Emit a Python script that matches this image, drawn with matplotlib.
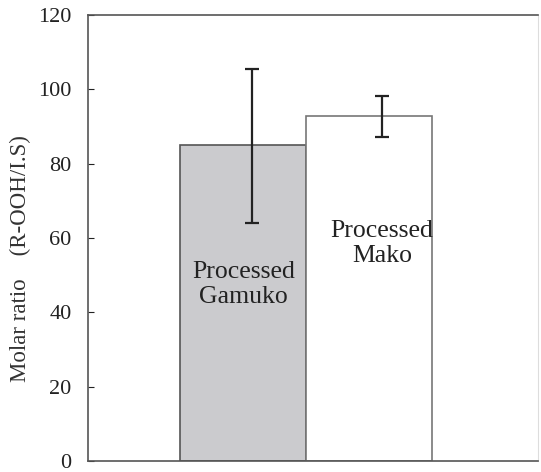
import matplotlib.pyplot as plt
import numpy as np

# bar data
samples = ['Processed\nGamuko', 'Processed\nMako']
ratio = [85.0, 92.8]
err_low = [64.1, 87.2]
err_high = [105.5, 98.3]
yticks = [0, 20, 40, 60, 80, 100, 120]

plt.rcParams['font.family'] = ['Liberation Serif', 'DejaVu Serif']

fig = plt.figure(figsize=(5.41, 4.72), dpi=100)
ax = fig.add_axes([0.163, 0.023, 0.832, 0.945])

x = np.arange(len(samples)) + 1.0
ratio = np.array(ratio)
lo = ratio - np.array(err_low)
hi = np.array(err_high) - ratio

ax.bar(x[0], ratio[0], width=1.0, color='#cbcbce', edgecolor='#555555', linewidth=1.2)
ax.bar(x[1], ratio[1], width=1.0, color='white', edgecolor='#777777', linewidth=1.2)

# error bars sit a bit right of centre
ex = x + np.array([0.07, 0.10])
ax.errorbar(ex, ratio, yerr=[lo, hi], fmt='none', ecolor='#222222',
            elinewidth=1.6, capsize=5, capthick=1.6)

ax.text(x[0], 47.5, samples[0], ha='center', va='center', fontsize=18.5,
        color='#222222', linespacing=1.15)
ax.text(x[1] + 0.1, 58.5, samples[1], ha='center', va='center', fontsize=18.5,
        color='#222222', linespacing=1.15)

ax.set_xlim(-0.23, 3.34)
ax.set_ylim(0, 120)
ax.set_yticks(yticks)
ax.set_xticks([])
ax.tick_params(axis='y', direction='in', length=4, labelsize=16, pad=12,
               colors='#222222')
ax.set_ylabel('Molar ratio    (R-OOH/I.S)', fontsize=16.5, color='#333333')
ax.yaxis.set_label_coords(-0.128, 0.455)

for s in ['left', 'bottom', 'top']:
    ax.spines[s].set_color('#555555')
    ax.spines[s].set_linewidth(1.2)
ax.spines['right'].set_color('#dddddd')

fig.savefig('out.png', dpi=100)
